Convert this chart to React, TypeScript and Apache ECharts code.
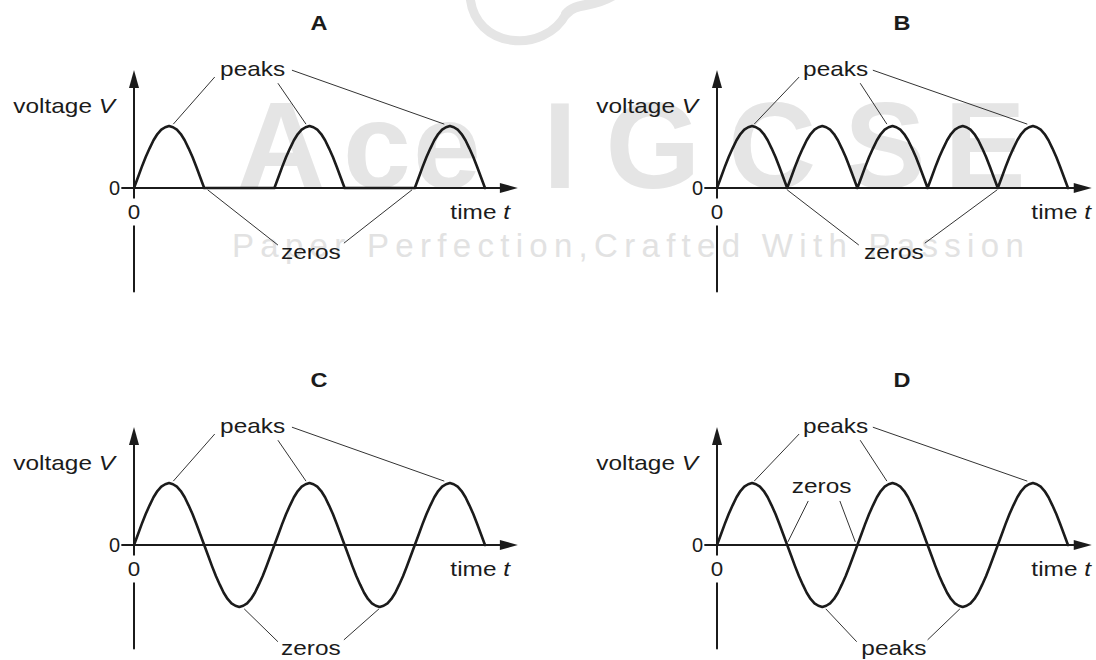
import { useEffect, useRef } from 'react';
import * as echarts from 'echarts';

const FONT = '"Liberation Sans", Arial, Helvetica, sans-serif';
const INK = '#1b1b1b';
const LEADER_INK = '#333333';
const WATERMARK_INK = '#e5e5e5';
const TEXT_STRETCH = 1.22;
const LABEL_SIZE = 20;

// ---------------- data ----------------
const PANEL_NAMES = ['A', 'B', 'C', 'D'];
// one half-cycle of the voltage, read at 18 equal steps (relative to the peak)
const HALF_CYCLE = [0, 0.17, 0.34, 0.5, 0.64, 0.77, 0.87, 0.94, 0.98, 1, 0.98, 0.94, 0.87, 0.77, 0.64, 0.5, 0.34, 0.17, 0];
// polarity of each of the five half-cycles shown in each graph
const POLARITY_A = [1, 0, 1, 0, 1];
const POLARITY_B = [1, 1, 1, 1, 1];
const POLARITY_C = [1, -1, 1, -1, 1];
const POLARITY_D = [1, -1, 1, -1, 1];
const X_TICK_LABELS = ['0'];
const Y_TICK_LABELS = ['0'];
const Y_AXIS_NAME = ['voltage ', 'V'];
const X_AXIS_NAME = ['time ', 't'];

type Pt = [number, number];
type Label = { text: string; at: Pt };
// annotation labels and leader lines, in each graph's (half-cycles, relative voltage) units
const LABELS_A: Label[] = [
  { text: 'peaks', at: [1.69, 1.92] },
  { text: 'zeros', at: [2.52, -1.04] },
];
const LEADERS_A: [Pt, Pt][] = [
  [[1.15, 1.79], [0.56, 1.03]],
  [[2.05, 1.69], [2.45, 1.03]],
  [[2.25, 1.9], [4.42, 1.03]],
  [[2.05, -0.92], [1.05, -0.03]],
  [[2.99, -0.89], [3.96, -0.03]],
];
const LABELS_B: Label[] = [
  { text: 'peaks', at: [1.69, 1.92] },
  { text: 'zeros', at: [2.52, -1.04] },
];
const LEADERS_B: [Pt, Pt][] = [
  [[1.17, 1.79], [0.53, 1.03]],
  [[2.04, 1.69], [2.42, 1.03]],
  [[2.22, 1.9], [4.42, 1.03]],
  [[2.02, -0.92], [1.0, -0.03]],
  [[2.96, -0.89], [3.99, -0.03]],
];
const LABELS_C: Label[] = [
  { text: 'peaks', at: [1.69, 1.92] },
  { text: 'zeros', at: [2.52, -1.67] },
];
const LEADERS_C: [Pt, Pt][] = [
  [[1.15, 1.79], [0.56, 1.03]],
  [[2.05, 1.69], [2.45, 1.03]],
  [[2.25, 1.9], [4.42, 1.03]],
  [[2.05, -1.56], [1.57, -1.03]],
  [[2.99, -1.53], [3.49, -1.03]],
];
const LABELS_D: Label[] = [
  { text: 'peaks', at: [1.69, 1.92] },
  { text: 'zeros', at: [1.49, 0.94] },
  { text: 'peaks', at: [2.52, -1.67] },
];
const LEADERS_D: [Pt, Pt][] = [
  [[1.17, 1.79], [0.53, 1.03]],
  [[2.04, 1.69], [2.42, 1.03]],
  [[2.22, 1.9], [4.42, 1.03]],
  [[1.3, 0.71], [1.01, 0.05]],
  [[1.75, 0.71], [1.97, 0.05]],
  [[1.99, -1.56], [1.55, -1.03]],
  [[3.0, -1.53], [3.46, -1.03]],
];

const PANELS = [
  { polarity: POLARITY_A, labels: LABELS_A, leaders: LEADERS_A },
  { polarity: POLARITY_B, labels: LABELS_B, leaders: LEADERS_B },
  { polarity: POLARITY_C, labels: LABELS_C, leaders: LEADERS_C },
  { polarity: POLARITY_D, labels: LABELS_D, leaders: LEADERS_D },
];

// ---------------- layout ----------------
const PX_PER_HALF_CYCLE = 70.2;
const PX_PER_UNIT = 62;
const T_MIN = -0.17;
const V_MIN = -1.67;
const V_MAX = 1.76;
const PANEL_LAYOUT = [
  { ox: 134, oy: 188, tMax: 5.34, timeRight: 376 },
  { ox: 717, oy: 188, tMax: 5.21, timeRight: 374 },
  { ox: 134, oy: 545, tMax: 5.34, timeRight: 376 },
  { ox: 717, oy: 545, tMax: 5.21, timeRight: 374 },
];

// watermark
const WM_LETTERS: [string, number][] = [
  ['A', 281], ['c', 377], ['e', 447], ['I', 560], ['G', 653], ['C', 772], ['S', 885], ['E', 985],
];
const WM_Y = 146;
const WM_SIZE = 122;
const TAGLINE = 'Paper Perfection,Crafted With Passion';
const TAGLINE_X = 232;
const TAGLINE_Y = 245;
const TAGLINE_SIZE = 33;
const TAGLINE_SPACING = 6.3;

function buildWave(polarity: number[]): Pt[] {
  const steps = HALF_CYCLE.length - 1;
  const pts: Pt[] = [];
  polarity.forEach((sign, h) => {
    HALF_CYCLE.forEach((v, k) => {
      if (h > 0 && k === 0) return;
      pts.push([h + k / steps, sign === 0 ? 0 : sign * v]);
    });
  });
  return pts;
}

function buildOption() {
  const grid = PANEL_LAYOUT.map((L) => ({
    left: L.ox + T_MIN * PX_PER_HALF_CYCLE,
    top: L.oy - V_MAX * PX_PER_UNIT,
    width: (L.tMax - T_MIN) * PX_PER_HALF_CYCLE,
    height: (V_MAX - V_MIN) * PX_PER_UNIT,
    containLabel: false,
    outerBoundsMode: 'none',
  }));
  const axisLine = {
    onZero: true,
    lineStyle: { color: INK, width: 2 },
    symbol: ['none', 'triangle'],
    symbolSize: [10, 18],
  };
  const xAxis = PANEL_LAYOUT.map((L, i) => ({
    gridIndex: i,
    type: 'value',
    min: T_MIN,
    max: L.tMax,
    z: 3,
    axisLine,
    axisTick: { show: false },
    splitLine: { show: false },
    axisLabel: { show: false },
  }));
  const yAxis = PANEL_LAYOUT.map((_, i) => ({
    gridIndex: i,
    type: 'value',
    min: V_MIN,
    max: V_MAX,
    z: 2,
    axisLine,
    axisTick: { show: false },
    splitLine: { show: false },
    axisLabel: {
      fontSize: LABEL_SIZE,
      color: INK,
      fontFamily: FONT,
      customValues: [0],
      formatter: () => Y_TICK_LABELS[0],
      margin: 2,
    },
  }));
  const series = PANELS.map((p, i) => ({
    type: 'line',
    name: PANEL_NAMES[i],
    xAxisIndex: i,
    yAxisIndex: i,
    data: buildWave(p.polarity),
    showSymbol: false,
    symbol: 'none',
    silent: true,
    z: 4,
    lineStyle: { color: INK, width: 2.6, cap: 'round', join: 'round' },
  }));
  return { animation: false, backgroundColor: '#ffffff', grid, xAxis, yAxis, series };
}

function textEl(x: number, y: number, style: any, extra: any = {}) {
  return { type: 'text', x, y, silent: true, z: 10, ...extra, style: { fill: INK, fontFamily: FONT, fontSize: LABEL_SIZE, align: 'center', verticalAlign: 'middle', ...style } };
}

function buildGraphics(chart: any) {
  const els: any[] = [];
  // watermark: logo fragment
  els.push({ type: 'bezierCurve', silent: true, z: -5, shape: { x1: 470, y1: -4, cpx1: 474, cpy1: 50, cpx2: 545, cpy2: 54, x2: 566, y2: 14 }, style: { stroke: WATERMARK_INK, lineWidth: 9, fill: 'none', lineCap: 'round' } });
  els.push({ type: 'bezierCurve', silent: true, z: -5, shape: { x1: 566, y1: 14, cpx1: 576, cpy1: 2, cpx2: 592, cpy2: 8, x2: 612, y2: -4 }, style: { stroke: WATERMARK_INK, lineWidth: 10, fill: 'none', lineCap: 'round' } });
  // watermark word
  WM_LETTERS.forEach(([ch, x]) => {
    els.push(textEl(x, WM_Y, { text: ch, fontSize: WM_SIZE, fontWeight: 'bold', fill: WATERMARK_INK }, { z: -5 }));
  });
  // tagline
  const ctx = document.createElement('canvas').getContext('2d');
  let tx = TAGLINE_X;
  for (const ch of TAGLINE) {
    let w = TAGLINE_SIZE * 0.5;
    if (ctx) {
      ctx.font = `${TAGLINE_SIZE}px "Liberation Sans"`;
      w = ctx.measureText(ch).width;
    }
    if (ch !== ' ') els.push(textEl(tx, TAGLINE_Y, { text: ch, fontSize: TAGLINE_SIZE, fill: '#e2e2e2', align: 'left' }, { z: -5 }));
    tx += w + TAGLINE_SPACING;
  }

  PANELS.forEach((p, i) => {
    const L = PANEL_LAYOUT[i];
    els.push(textEl(L.ox + 185, L.oy - 165, { text: PANEL_NAMES[i], fontSize: 21, fontWeight: 'bold' }, { scaleX: 1.12 }));
    const italic = { fontStyle: 'italic', fontSize: LABEL_SIZE, fontFamily: FONT, fill: INK };
    els.push(textEl(L.ox - 19, L.oy - 82, { text: `${Y_AXIS_NAME[0]}{i|${Y_AXIS_NAME[1]}}`, align: 'right', rich: { i: italic } }, { scaleX: TEXT_STRETCH }));
    els.push(textEl(L.ox + L.timeRight, L.oy + 24, { text: `${X_AXIS_NAME[0]}{i|${X_AXIS_NAME[1]}}`, align: 'right', rich: { i: italic } }, { scaleX: TEXT_STRETCH }));
    // time-axis tick label "0" under the origin, on a white patch that breaks the voltage axis
    const origin = chart.convertToPixel({ gridIndex: i }, [0, 0]);
    els.push(textEl(origin[0], origin[1] + 24, { text: X_TICK_LABELS[0], backgroundColor: '#ffffff', padding: [4, 3, 3, 3] }, { scaleX: 1.12 }));
    p.leaders.forEach(([a, b]) => {
      const pa = chart.convertToPixel({ gridIndex: i }, a);
      const pb = chart.convertToPixel({ gridIndex: i }, b);
      els.push({ type: 'line', silent: true, z: 5, shape: { x1: pa[0], y1: pa[1], x2: pb[0], y2: pb[1] }, style: { stroke: LEADER_INK, lineWidth: 1 } });
    });
    p.labels.forEach((lab) => {
      const pt = chart.convertToPixel({ gridIndex: i }, lab.at);
      els.push(textEl(pt[0], pt[1], { text: lab.text }, { scaleX: TEXT_STRETCH }));
    });
  });
  return els;
}

export default function App() {
  const ref = useRef<HTMLDivElement>(null);
  useEffect(() => {
    const el = ref.current;
    if (!el) return;
    const chart = echarts.init(el, null, { renderer: 'svg' });
    chart.setOption(buildOption() as any);
    chart.setOption({ graphic: { elements: buildGraphics(chart) } } as any);
    return () => chart.dispose();
  }, []);
  return <div ref={ref} style={{ position: 'fixed', left: 0, top: 0, width: 1096, height: 660, background: '#fff' }} />;
}
